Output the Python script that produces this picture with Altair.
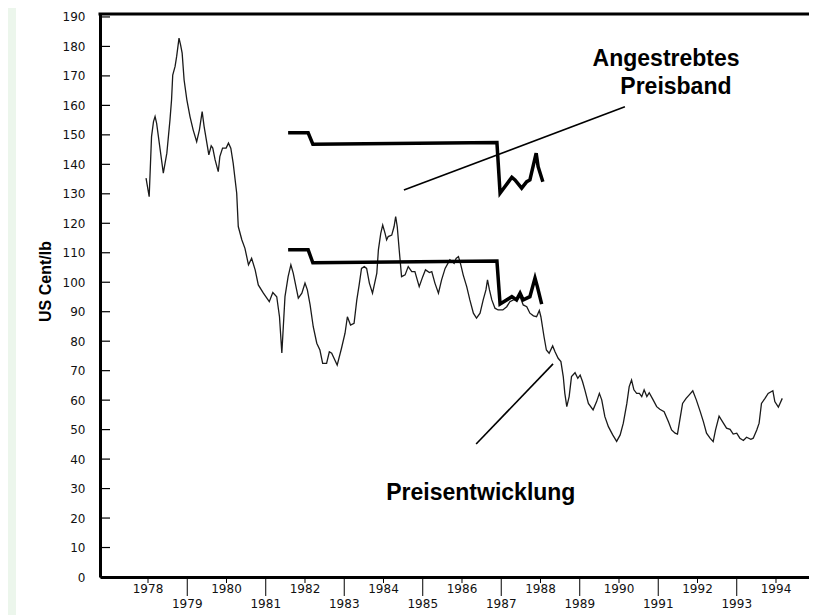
import altair as alt
import pandas as pd

# ---------------- data ----------------
price_year = [
    1977.95, 1978.03, 1978.09, 1978.14, 1978.18, 1978.22, 1978.39, 1978.48, 1978.56, 1978.60,
    1978.63, 1978.69, 1978.73, 1978.79, 1978.83, 1978.87, 1978.92, 1978.99, 1979.07, 1979.15,
    1979.24, 1979.31, 1979.38, 1979.43, 1979.50, 1979.55, 1979.61, 1979.65, 1979.71, 1979.79,
    1979.83, 1979.90, 1979.99, 1980.05, 1980.11, 1980.17, 1980.26, 1980.30, 1980.39, 1980.47,
    1980.56, 1980.64, 1980.73, 1980.81, 1980.94, 1981.09, 1981.18, 1981.28, 1981.35, 1981.41,
    1981.49, 1981.57, 1981.64, 1981.70, 1981.83, 1981.92, 1982.00, 1982.06, 1982.13, 1982.21,
    1982.30, 1982.38, 1982.45, 1982.55, 1982.62, 1982.68, 1982.76, 1982.82, 1982.93, 1983.02,
    1983.08, 1983.16, 1983.25, 1983.32, 1983.38, 1983.44, 1983.51, 1983.57, 1983.64, 1983.72,
    1983.83, 1983.87, 1983.93, 1983.98, 1984.04, 1984.08, 1984.12, 1984.21, 1984.27, 1984.31,
    1984.35, 1984.40, 1984.46, 1984.55, 1984.63, 1984.72, 1984.80, 1984.91, 1985.00, 1985.07,
    1985.17, 1985.23, 1985.31, 1985.40, 1985.48, 1985.57, 1985.69, 1985.80, 1985.85, 1985.91,
    1985.97, 1986.03, 1986.12, 1986.20, 1986.29, 1986.37, 1986.46, 1986.54, 1986.61, 1986.65,
    1986.70, 1986.76, 1986.84, 1986.92, 1987.04, 1987.14, 1987.22, 1987.31, 1987.39, 1987.48,
    1987.56, 1987.65, 1987.73, 1987.82, 1987.90, 1987.97, 1988.01, 1988.09, 1988.15, 1988.22,
    1988.31, 1988.37, 1988.45, 1988.52, 1988.58, 1988.62, 1988.67, 1988.73, 1988.79, 1988.88,
    1988.95, 1989.01, 1989.07, 1989.13, 1989.22, 1989.34, 1989.43, 1989.50, 1989.56, 1989.64,
    1989.73, 1989.84, 1989.94, 1990.03, 1990.11, 1990.20, 1990.26, 1990.32, 1990.38, 1990.45,
    1990.52, 1990.58, 1990.64, 1990.71, 1990.77, 1990.87, 1990.96, 1991.04, 1991.15, 1991.26,
    1991.34, 1991.43, 1991.49, 1991.55, 1991.62, 1991.71, 1991.79, 1991.88, 1991.97, 1992.07,
    1992.15, 1992.23, 1992.32, 1992.40, 1992.46, 1992.55, 1992.66, 1992.74, 1992.83, 1992.91,
    1993.00, 1993.08, 1993.17, 1993.25, 1993.36, 1993.42, 1993.51, 1993.57, 1993.63, 1993.72,
    1993.80, 1993.92, 1993.97, 1994.06, 1994.16,
]
price_value = [
    135.3, 129.0, 149.4, 154.5, 156.2, 153.9, 137.0, 143.8, 155.1, 161.9,
    170.3, 173.2, 176.6, 182.8, 180.5, 177.7, 168.6, 161.9, 156.2, 151.7,
    147.7, 151.7, 157.9, 152.8, 147.2, 143.2, 146.3, 145.5, 141.5, 137.5,
    142.6, 145.5, 145.5, 147.2, 145.5, 140.4, 130.2, 118.9, 114.4, 111.5,
    105.9, 108.1, 104.2, 99.1, 96.3, 93.4, 96.5, 95.1, 88.3, 76.0,
    95.1, 101.9, 105.9, 103.1, 94.6, 96.3, 99.7, 97.4, 92.3, 84.9,
    79.3, 77.0, 72.5, 72.5, 76.4, 75.9, 73.6, 71.9, 77.6, 82.7,
    88.3, 85.5, 86.1, 94.0, 99.1, 104.7, 105.3, 104.7, 99.7, 96.3,
    103.1, 111.0, 116.6, 119.4, 116.6, 114.4, 115.5, 116.0, 118.9, 122.3,
    118.9, 111.0, 101.9, 102.5, 105.3, 103.6, 103.6, 98.5, 101.9, 104.2,
    103.3, 103.6, 99.7, 96.3, 100.8, 104.7, 107.6, 106.4, 108.1, 108.7,
    105.9, 102.5, 98.5, 94.0, 89.5, 87.8, 89.5, 94.0, 97.4, 100.8,
    97.4, 94.0, 91.2, 90.6, 90.6, 91.7, 93.4, 94.0, 94.0, 95.1,
    92.3, 91.7, 89.5, 88.6, 88.3, 90.4, 88.3, 81.5, 77.0, 75.9,
    78.4, 76.4, 74.2, 73.1, 68.0, 62.3, 57.8, 61.2, 68.0, 69.3,
    67.4, 68.5, 66.3, 63.5, 58.9, 56.7, 59.5, 62.3, 60.1, 54.4,
    51.0, 48.2, 46.0, 48.2, 52.2, 58.9, 64.6, 66.8, 63.5, 62.3,
    62.3, 61.2, 63.5, 61.2, 62.5, 60.1, 57.8, 56.9, 56.1, 52.7,
    49.9, 48.8, 48.5, 53.3, 58.9, 60.6, 61.8, 63.2, 60.1, 56.1,
    52.7, 48.8, 47.1, 45.9, 49.9, 54.6, 52.2, 50.5, 50.1, 48.5,
    48.8, 47.1, 46.3, 47.4, 46.7, 47.1, 49.9, 52.2, 58.9, 60.6,
    62.3, 63.2, 59.5, 57.6, 60.6,
]

upper_year = [1981.57, 1982.08, 1982.20, 1986.89, 1986.97, 1987.27, 1987.35, 1987.52,
              1987.65, 1987.73, 1987.89, 1987.94, 1988.06]
upper_value = [150.7, 150.7, 146.8, 147.4, 130.2, 135.6, 134.7, 131.9,
               134.1, 134.7, 143.8, 139.2, 134.1]
lower_year = [1981.57, 1982.08, 1982.20, 1986.89, 1986.97, 1987.27, 1987.39, 1987.48,
              1987.56, 1987.73, 1987.86, 1987.92, 1988.03]
lower_value = [111.0, 111.0, 106.6, 107.2, 92.6, 95.1, 94.0, 96.3,
               94.0, 95.1, 101.4, 98.5, 92.6]

y_tick_values = list(range(0, 200, 10))
x_tick_labels = ["1978", "1979", "1980", "1981", "1982", "1983", "1984", "1985", "1986",
                 "1987", "1988", "1989", "1990", "1991", "1992", "1993", "1994"]

y_title = "US Cent/lb"
label_texts = ["Angestrebtes", "Preisband", "Preisentwicklung"]
label_year = [1991.20, 1991.45, 1986.48]
label_value = [175.6, 166.3, 28.6]

pointer_year = [1984.52, 1986.36]
pointer_value = [131.3, 45.1]
pointer_year2 = [1990.15, 1988.32]
pointer_value2 = [159.5, 72.3]

# ---------------- tables ----------------
price_df = pd.DataFrame({"year": price_year, "value": price_value})
band_df = pd.concat([
    pd.DataFrame({"year": upper_year, "value": upper_value, "band": "oben"}),
    pd.DataFrame({"year": lower_year, "value": lower_value, "band": "unten"}),
], ignore_index=True)
ytick_df = pd.DataFrame({"value": y_tick_values})
xt = pd.DataFrame({"label": x_tick_labels})
xt["year"] = xt["label"].astype(int)
even_df = xt[xt["year"] % 2 == 0]
odd_df = xt[xt["year"] % 2 == 1]
ann_df = pd.DataFrame({"text": label_texts, "year": label_year, "value": label_value})
ptr_df = pd.DataFrame({"year": pointer_year, "value": pointer_value,
                       "year2": pointer_year2, "value2": pointer_value2})

# ---------------- chart ----------------
W, H = 709, 563
xs = alt.Scale(domain=[1976.777, 1994.841], nice=False, zero=False)
ys = alt.Scale(domain=[0, 191], nice=False, zero=False)
LABEL_FONT = "DejaVu Sans"
BOLD_FONT = "Liberation Sans"

x_axis = alt.Axis(labels=False, ticks=False, grid=False, title=None,
                  domainColor="black", domainWidth=3)
y_axis = alt.Axis(values=y_tick_values, tickCount=20, labelOverlap=False,
                  ticks=False, grid=False, labelPadding=15,
                  labelFont=LABEL_FONT, labelFontSize=12, labelColor="#111",
                  domainColor="black", domainWidth=3,
                  title=y_title, titleFont=BOLD_FONT, titleFontSize=16, titleFontWeight="bold",
                  titleColor="black", titleAngle=270, titleX=-55, titleY=267,
                  titleAlign="center", titleBaseline="middle")

X = alt.X("year:Q", scale=xs, axis=x_axis)
Y = alt.Y("value:Q", scale=ys, axis=y_axis)

# pale green strip along the left edge of the page
strip = alt.Chart(pd.DataFrame({"a": [0]})).mark_rect(color="#ecf6ec").encode(
    x=alt.value(-92), x2=alt.value(-84), y=alt.value(-6), y2=alt.value(H + 60)
)

price = alt.Chart(price_df).mark_line(color="#1a1a1a", strokeWidth=1.3).encode(x=X, y=Y)

top_line = alt.Chart(pd.DataFrame({"a": [0]})).mark_rule(color="black", strokeWidth=3).encode(
    x=alt.value(-1.5), x2=alt.value(W + 20), y=alt.value(0)
)

y_ticks = alt.Chart(ytick_df).mark_rule(color="black", strokeWidth=1.2).encode(
    y=Y, x=alt.value(0), x2=alt.value(10)
)

bands = alt.Chart(band_df).mark_line(color="black", strokeWidth=3.5, strokeJoin="miter").encode(
    x=X, y=Y, detail="band:N",
)

even_ticks = alt.Chart(even_df).mark_rule(color="black", strokeWidth=1).encode(
    x=X, y=alt.value(H), y2=alt.value(H + 6)
)
odd_ticks = alt.Chart(odd_df).mark_rule(color="black", strokeWidth=1).encode(
    x=X, y=alt.value(H), y2=alt.value(H + 19)
)
even_labels = alt.Chart(even_df).mark_text(font=LABEL_FONT, fontSize=12, color="#111",
                                           baseline="middle", align="center").encode(
    x=X, y=alt.value(H + 12), text="label:N"
)
odd_labels = alt.Chart(odd_df).mark_text(font=LABEL_FONT, fontSize=12, color="#111",
                                         baseline="middle", align="center").encode(
    x=X, y=alt.value(H + 27), text="label:N"
)

annotations = alt.Chart(ann_df).mark_text(font=BOLD_FONT, fontSize=23, fontWeight="bold",
                                          color="black", baseline="middle", align="center").encode(
    x=X, y=Y, text="text:N",
)

pointers = alt.Chart(ptr_df).mark_rule(color="black", strokeWidth=1.6).encode(
    x=X, x2="year2:Q", y=Y, y2="value2:Q",
)

chart = alt.layer(
    price, strip, y_ticks, bands, top_line, even_ticks, odd_ticks,
    even_labels, odd_labels, annotations, pointers,
).properties(
    width=W, height=H,
    autosize=alt.AutoSizeParams(type="none"),
    padding={"left": 92, "top": 6, "right": 0, "bottom": 40},
    background="white",
).configure_view(stroke=None)

chart.save("out.html", embed_options={"renderer": "svg", "actions": False})
